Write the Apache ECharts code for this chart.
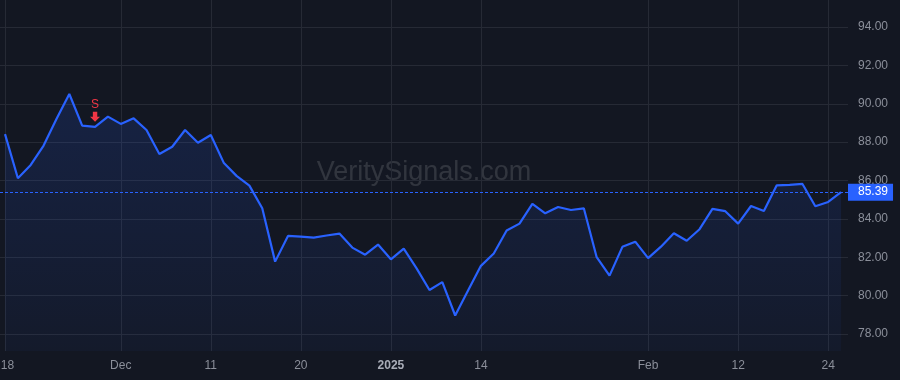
<!DOCTYPE html>
<html><head><meta charset="utf-8">
<script src="https://cdn.jsdelivr.net/npm/echarts@6/dist/echarts.min.js"></script>
<style>html,body{margin:0;padding:0;background:#131722;}#c{width:900px;height:380px;}</style>
</head><body><div id="c"></div>
<script>
// Trading days (Nov 18 2024 .. Feb 25 2025)
const dates = [
 '2024-11-18','2024-11-19','2024-11-20','2024-11-21','2024-11-22','2024-11-25','2024-11-26','2024-11-27','2024-11-29',
 '2024-12-02','2024-12-03','2024-12-04','2024-12-05','2024-12-06','2024-12-09','2024-12-10',
 '2024-12-11','2024-12-12','2024-12-13','2024-12-16','2024-12-17','2024-12-18','2024-12-19',
 '2024-12-20','2024-12-23','2024-12-24','2024-12-26','2024-12-27','2024-12-30','2024-12-31',
 '2025-01-02','2025-01-03','2025-01-06','2025-01-07','2025-01-08','2025-01-10','2025-01-13',
 '2025-01-14','2025-01-15','2025-01-16','2025-01-17','2025-01-21','2025-01-22','2025-01-23','2025-01-24',
 '2025-01-27','2025-01-28','2025-01-29','2025-01-30','2025-01-31',
 '2025-02-03','2025-02-04','2025-02-05','2025-02-06','2025-02-07','2025-02-10','2025-02-11',
 '2025-02-12','2025-02-13','2025-02-14','2025-02-18','2025-02-19','2025-02-20','2025-02-21',
 '2025-02-24','2025-02-25'
];
const prices = [
 88.42,86.12,86.81,87.82,89.21,90.51,88.86,88.80,89.33,
 88.95,89.24,88.63,87.38,87.76,88.63,87.97,
 88.37,86.93,86.24,85.73,84.55,81.77,83.11,
 83.07,83.02,83.13,83.23,82.50,82.13,82.66,
 81.89,82.45,81.42,80.29,80.70,78.96,80.26,
 81.55,82.19,83.39,83.75,84.78,84.29,84.62,84.46,
 84.55,82.00,81.04,82.54,82.81,
 81.95,82.55,83.25,82.86,83.46,84.52,84.40,
 83.75,84.67,84.41,85.75,85.77,85.82,84.66,
 84.88,85.39
];
const xTickIndex = [0, 9, 16, 23, 30, 37, 50, 57, 64];
const xTickText  = ['18', 'Dec', '11', '20', '2025', '14', 'Feb', '12', '24'];
const yTicks = [78, 80, 82, 84, 86, 88, 90, 92, 94];
const lastPrice = 85.39;
const signalIndex = 7;
const signalText = 'S';
const watermark = 'VeritySignals.com';

const seriesData = prices.map((v, i) => [i, v]);
const font = "'Liberation Sans', Arial, sans-serif";
const chart = echarts.init(document.getElementById('c'), null, {renderer: 'canvas'});
chart.setOption({
  backgroundColor: '#131722',
  animation: false,
  grid: {left: 0, right: 52, top: 0, bottom: 29, containLabel: false, outerBoundsMode: 'none'},
  graphic: [{
    type: 'text', z: 0,
    style: {text: watermark, fill: 'rgba(255,255,255,0.13)', font: "27px " + font,
      align: 'center', verticalAlign: 'middle'},
    x: 424, y: 173
  }],
  xAxis: {
    type: 'value', min: -0.39, max: 65.54,
    axisLine: {show: false}, axisTick: {show: false, customValues: xTickIndex},
    splitLine: {show: true, lineStyle: {color: '#262a35', width: 1}},
    axisLabel: {
      customValues: xTickIndex, margin: 9, color: '#8b8f9a', fontSize: 12, fontFamily: font,
      formatter: function (v) {
        const i = Math.round(v);
        const k = xTickIndex.indexOf(i);
        const t = k >= 0 ? xTickText[k] : '';
        if (t === '2025') return '{b|' + t + '}';
        if (k === 0) return '{l|' + t + '}';
        return t;
      },
      rich: {
        b: {fontWeight: 'bold', color: '#a9adb8', fontSize: 12, fontFamily: font},
        l: {color: '#8b8f9a', fontSize: 12, fontFamily: font, padding: [0, 0, 0, 5]}
      }
    }
  },
  yAxis: {
    type: 'value', position: 'right', min: 77.11, max: 95.41, scale: true,
    axisLine: {show: false}, axisTick: {show: false, customValues: yTicks},
    splitLine: {show: true, lineStyle: {color: '#262a35', width: 1}},
    axisLabel: {
      customValues: yTicks, margin: 10, color: '#8b8f9a', fontSize: 12, fontFamily: font,
      formatter: v => v.toFixed(2)
    }
  },
  series: [{
    type: 'line', data: seriesData, symbol: 'none', smooth: false, z: 3,
    lineStyle: {color: '#2962ff', width: 2.2},
    areaStyle: {origin: 'start', color: new echarts.graphic.LinearGradient(0, 0, 0, 1, [
      {offset: 0, color: 'rgba(41,98,255,0.22)'},
      {offset: 1, color: 'rgba(41,98,255,0.06)'}
    ])},
    markLine: {
      silent: true, symbol: 'none', animation: false,
      lineStyle: {color: '#2962ff', width: 1, type: [3, 2]},
      label: {
        show: true, position: 'end', distance: 0, formatter: v => v.value.toFixed(2),
        backgroundColor: '#2962ff', color: '#ffffff', fontSize: 12, fontFamily: font,
        padding: [3, 5, 2, 10], borderRadius: 0
      },
      data: [{yAxis: lastPrice}]
    },
    markPoint: {
      silent: true, animation: false,
      symbol: 'path://M2.8,0 L7.2,0 L7.2,5 L10,5 L5,10 L0,5 L2.8,5 Z',
      symbolSize: [10, 10], symbolOffset: [0, -10],
      itemStyle: {color: '#f23645'},
      label: {show: true, position: 'top', distance: 1, formatter: signalText,
        color: '#f23645', fontSize: 12, fontFamily: font},
      data: [{coord: [signalIndex, prices[signalIndex]]}]
    }
  }]
});
</script></body></html>
